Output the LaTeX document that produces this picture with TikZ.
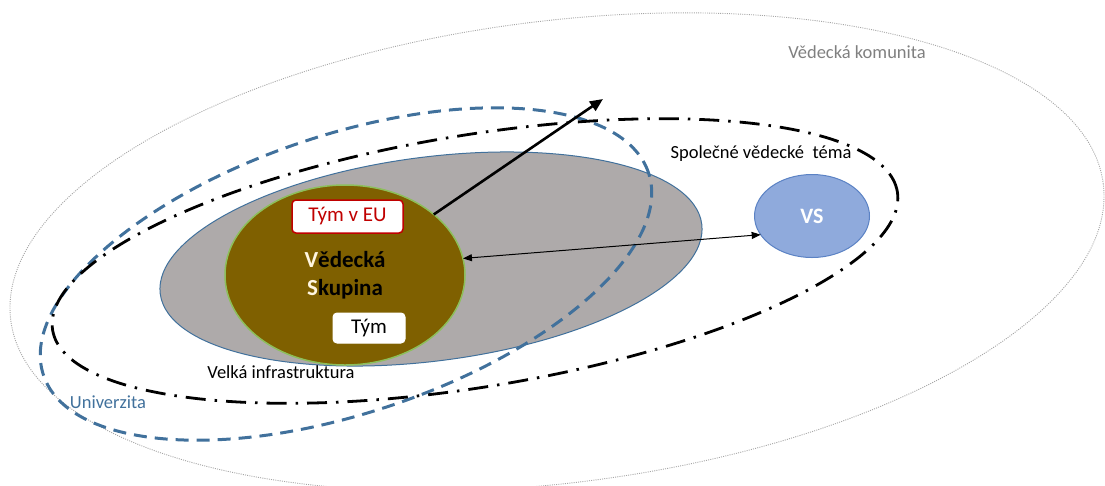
\documentclass[tikz,border=0pt]{standalone}
\usepackage{fontspec}
\setmainfont{Carlito}
\usetikzlibrary{shapes.geometric,arrows.meta}

\definecolor{ringgray}{HTML}{A6A6A6}
\definecolor{infrafill}{HTML}{AEAAAA}
\definecolor{infraline}{HTML}{41719C}
\definecolor{unilue}{HTML}{41719C}
\definecolor{groupfill}{HTML}{7F6000}
\definecolor{groupline}{HTML}{8DBF5A}
\definecolor{initial}{HTML}{FFF6E0}
\definecolor{teamred}{HTML}{C00000}
\definecolor{vsfill}{HTML}{8FAADC}
\definecolor{vsline}{HTML}{5B82C4}
\definecolor{textgray}{HTML}{808080}

\tikzset{
  oval/.style={ellipse, inner sep=0pt, outer sep=0pt},
  lbl/.style={inner sep=0pt, font=\fontsize{18.5}{22}\selectfont},
  teambox/.style={rectangle, rounded corners=4pt, fill=white, inner sep=0pt,
    font=\fontsize{21}{24}\selectfont},
}

\begin{document}
\begin{tikzpicture}[x=1pt,y=-1pt]
\useasboundingbox (0,0) rectangle (1105,485);

% scientific community (outermost ring)
\node[oval, draw=ringgray, line width=0.9pt, dash pattern=on 1pt off 1.2pt,
      minimum width=1101pt, minimum height=462pt, rotate=7.1] (komunita) at (557,252) {};

% large infrastructure
\node[oval, fill=infrafill, draw=infraline, line width=1pt,
      minimum width=546pt, minimum height=204pt, rotate=7.35] (infra) at (431,259) {};

% research group
\node[oval, fill=groupfill, draw=groupline, line width=1.5pt,
      minimum width=240pt, minimum height=180pt, align=center,
      font=\bfseries\fontsize{23}{28}\selectfont] (skup) at (345,275)
      {\textcolor{initial}{V}ědecká\\\textcolor{initial}{S}kupina};

% university
\node[oval, draw=unilue, line width=3pt, dash pattern=on 13pt off 8pt,
      minimum width=638pt, minimum height=278pt, rotate=18.5] (univ) at (346,274) {};

% common research topic
\node[oval, draw=black, line width=2.8pt,
      dash pattern=on 20pt off 9pt on 2.5pt off 9pt,
      minimum width=856pt, minimum height=252pt, rotate=9.3] (tema) at (475,261) {};

% partner node
\node[oval, fill=vsfill, draw=vsline, line width=1pt,
      minimum width=115pt, minimum height=83pt, text=white,
      font=\bfseries\fontsize{22}{24}\selectfont] (vs) at (812,216) {VS};

% teams inside the group
\node[teambox, draw=teamred, line width=1.5pt, text=teamred,
      minimum width=111pt, minimum height=33pt] (eu) at (347.5,216.5) {Tým v EU};
\node[teambox, draw=white, line width=1pt,
      minimum width=72pt, minimum height=30pt] (tym) at (369,328) {Tým};

% connectors
\coordinate (ven) at (603,99);
\draw[line width=2.6pt, -{Triangle[length=13pt,width=11pt]}] (skup) -- (ven);
\draw[line width=1pt, {Triangle[length=9pt,width=7pt]}-{Triangle[length=9pt,width=7pt]}]
  (skup.8) -- (vs.200);

% labels
\node[lbl, text=textgray] (lkom) at (857,52) {Vědecká komunita};
\node[lbl] (ltema) at (761,154) {Společné vědecké\ \ téma};
\node[lbl] (linfra) at (281,372) {Velká infrastruktura};
\node[lbl, text=unilue] (luni) at (108,402) {Univerzita};
\end{tikzpicture}
\end{document}
